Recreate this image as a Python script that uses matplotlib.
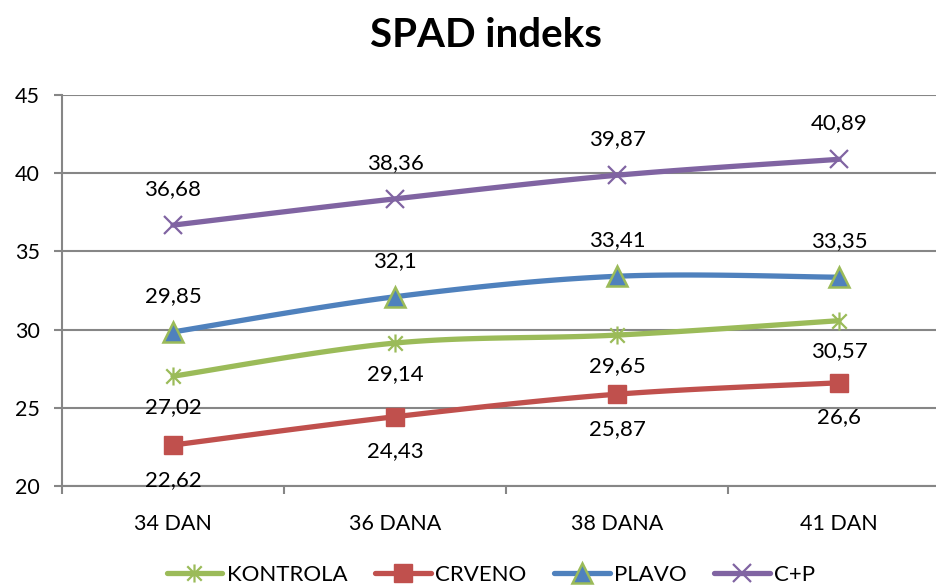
import numpy as np
import matplotlib
matplotlib.use("Agg")
import matplotlib.pyplot as plt
from matplotlib.path import Path

plt.rcParams['font.family'] = ['Lato', 'DejaVu Sans']

categories = ["34 DAN", "36 DANA", "38 DANA", "41 DAN"]
kontrola = [27.02, 29.14, 29.65, 30.57]
crveno = [22.62, 24.43, 25.87, 26.6]
plavo = [29.85, 32.1, 33.41, 33.35]
cp = [36.68, 38.36, 39.87, 40.89]
labels_text = {
    "KONTROLA": ["27,02", "29,14", "29,65", "30,57"],
    "CRVENO": ["22,62", "24,43", "25,87", "26,6"],
    "PLAVO": ["29,85", "32,1", "33,41", "33,35"],
    "C+P": ["36,68", "38,36", "39,87", "40,89"],
}
yticks = [20, 25, 30, 35, 40, 45]

def smooth(xs, ys, n=40):
    xs = np.asarray(xs, float); ys = np.asarray(ys, float)
    P = np.column_stack([xs, ys])
    out = [P[0]]
    for i in range(len(P) - 1):
        p0 = P[i - 1] if i > 0 else P[i]
        p1 = P[i]; p2 = P[i + 1]
        p3 = P[i + 2] if i + 2 < len(P) else P[i + 1]
        c1 = p1 + (p2 - p0) / 6.0
        c2 = p2 - (p3 - p1) / 6.0
        t = np.linspace(0, 1, n)[1:, None]
        seg = (1 - t) ** 3 * p1 + 3 * (1 - t) ** 2 * t * c1 + 3 * (1 - t) * t ** 2 * c2 + t ** 3 * p2
        out.extend(seg)
    out = np.array(out)
    return out[:, 0], out[:, 1]

star = Path([(0, -1), (0, 1), (-0.8, -0.8), (0.8, 0.8), (-0.8, 0.8), (0.8, -0.8)],
            [Path.MOVETO, Path.LINETO, Path.MOVETO, Path.LINETO, Path.MOVETO, Path.LINETO])

fig = plt.figure(figsize=(9.37, 5.88), dpi=100)
ax = fig.add_axes([62 / 937, 102 / 588, 888 / 937, 391 / 588])

x = np.arange(len(categories))
series = [
    ("KONTROLA", kontrola, "#9BBB59", dict(marker=star, markersize=13, markeredgewidth=1.6,
                                         markeredgecolor="#9BBB59", markerfacecolor="none"), -22),
    ("CRVENO", crveno, "#C0504D", dict(marker="s", markersize=13, markeredgewidth=1,
                                       markeredgecolor="#C0504D", markerfacecolor="#C0504D"), -25),
    ("PLAVO", plavo, "#4F81BD", dict(marker="^", markersize=14, markeredgewidth=1.8,
                                     markeredgecolor="#9BBB59", markerfacecolor="#4F81BD"), 26),
    ("C+P", cp, "#8064A2", dict(marker="x", markersize=13, markeredgewidth=1.6,
                                markeredgecolor="#8064A2"), 26),
]

handles = []
for name, vals, col, mk, off in series:
    sx, sy = smooth(x, vals)
    ax.plot(sx, sy, color=col, lw=3.8, solid_capstyle="round", zorder=3)
    ax.plot(x, vals, linestyle="none", zorder=4, **mk)
    h, = ax.plot([], [], color=col, lw=3.8, solid_capstyle="round", **mk)
    handles.append(h)
    for xi, v, t in zip(x, vals, labels_text[name]):
        ax.annotate(t, (xi, v), xytext=(0, off), textcoords="offset points",
                    ha="center", va="center", fontsize=16, color="black", zorder=5)

ax.set_xlim(-0.5, 3.5)
ax.set_ylim(20, 45)
ax.set_yticks(yticks)
ax.set_yticklabels([str(v) for v in yticks], fontsize=15.5)
ax.set_xticks(x)
ax.set_xticklabels(categories, fontsize=15.5)
ax.set_xticks(np.arange(-0.5, 4.0, 1.0), minor=True)
ax.tick_params(axis="x", which="major", length=0, pad=20)
ax.tick_params(axis="x", which="minor", length=6, width=1.5, color="#868686", direction="out")
ax.tick_params(axis="y", length=6, width=1.5, color="#868686", pad=10, direction="out")
ax.grid(axis="y", color="#868686", lw=1.5, zorder=0)
for s in ["top", "right"]:
    ax.spines[s].set_visible(False)
for s in ["left", "bottom"]:
    ax.spines[s].set_color("#868686")
    ax.spines[s].set_linewidth(1.5)
ax.set_axisbelow(True)

fig.text(486 / 937, 0.94, "SPAD indeks", ha="center", va="center", fontsize=29, fontweight="bold")

fig.legend(handles, [s[0] for s in series], loc="center", bbox_to_anchor=(491 / 937, 0.022),
           ncol=4, frameon=False, fontsize=16, handlelength=2.5, columnspacing=1.25, handletextpad=0.2,
           borderpad=0.1)

fig.savefig("out.png", dpi=100)
